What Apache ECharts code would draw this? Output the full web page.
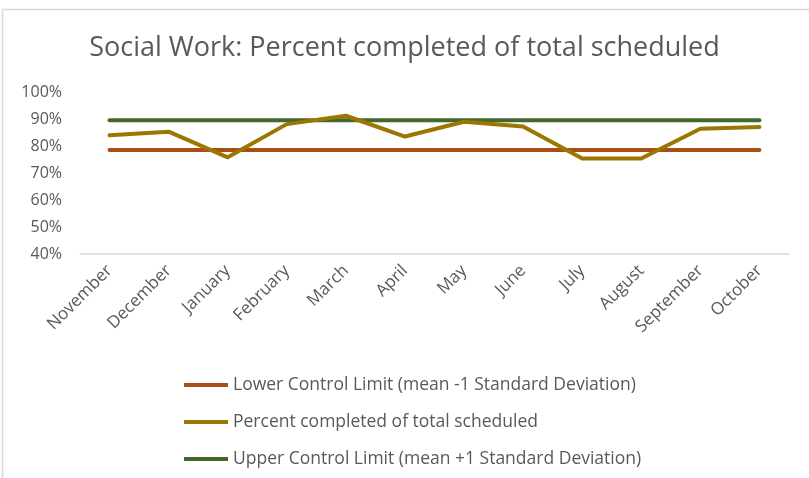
<!DOCTYPE html>
<html>
<head>
<meta charset="utf-8">
<script src="https://cdn.jsdelivr.net/npm/echarts@6/dist/echarts.min.js"></script>
<style>
html,body{margin:0;padding:0;background:#fff;}
#chart{width:809px;height:478px;}
</style>
</head>
<body>
<div id="chart"></div>
<script>
// 月份
var months = ['November','December','January','February','March','April','May','June','July','August','September','October'];
// 完成比例（%）
var percentDone = [84.0, 85.3, 75.8, 88.1, 91.2, 83.5, 89.0, 87.2, 75.4, 75.4, 86.4, 87.0];
// 控制线
var lowerLimit = [78.5, 78.5, 78.5, 78.5, 78.5, 78.5, 78.5, 78.5, 78.5, 78.5, 78.5, 78.5];
var upperLimit = [89.5, 89.5, 89.5, 89.5, 89.5, 89.5, 89.5, 89.5, 89.5, 89.5, 89.5, 89.5];

var seriesNames = [
	'Lower Control Limit (mean -1 Standard Deviation)',
	'Percent completed of total scheduled',
	'Upper Control Limit (mean +1 Standard Deviation)'
];
var colors = ['#A84F17', '#9B7600', '#43682B'];
var font = 'Open Sans';

var myChart = echarts.init(document.getElementById('chart'));

function lineSeries(i, data){
	return {
		name: seriesNames[i],
		type: 'line',
		data: data,
		symbol: 'none',
		z: i == 1 ? 3 : 2,
		lineStyle: {width: 4, color: colors[i], cap: 'round', join: 'round'},
		itemStyle: {color: colors[i]}
	};
}

var option = {
	animation: false,
	textStyle: {fontFamily: font},
	title: {
		text: 'Social Work: Percent completed of total scheduled',
		left: 'center',
		top: 30,
		textStyle: {fontFamily: font, fontSize: 27, fontWeight: 'normal', color: '#595959'}
	},
	// 图表外框
	graphic: [{
		type: 'rect',
		shape: {x: 2.5, y: 9.5, width: 820, height: 480},
		style: {fill: 'none', stroke: '#d9d9d9', lineWidth: 1.5},
		silent: true
	}],
	legend: {
		orient: 'vertical',
		left: 179,
		top: 371,
		itemWidth: 44,
		itemHeight: 4,
		itemGap: 19,
		icon: 'rect',
		textStyle: {fontFamily: font, fontSize: 17.5, color: '#595959'},
		data: seriesNames
	},
	grid: {left: 80, right: 20, top: 92, height: 162, containLabel: false},
	xAxis: {
		type: 'category',
		data: months,
		boundaryGap: true,
		axisLine: {lineStyle: {color: '#d9d9d9', width: 1.5}},
		axisTick: {show: false},
		axisLabel: {rotate: 45, interval: 0, fontSize: 17, color: '#595959', margin: 14}
	},
	yAxis: {
		type: 'value',
		min: 40,
		max: 100,
		interval: 10,
		splitLine: {show: false},
		axisLine: {show: false},
		axisTick: {show: false},
		axisLabel: {fontSize: 16, color: '#595959', margin: 18, formatter: '{value}%'}
	},
	series: [
		lineSeries(0, lowerLimit),
		lineSeries(1, percentDone),
		lineSeries(2, upperLimit)
	]
};
myChart.setOption(option);
</script>
</body>
</html>
